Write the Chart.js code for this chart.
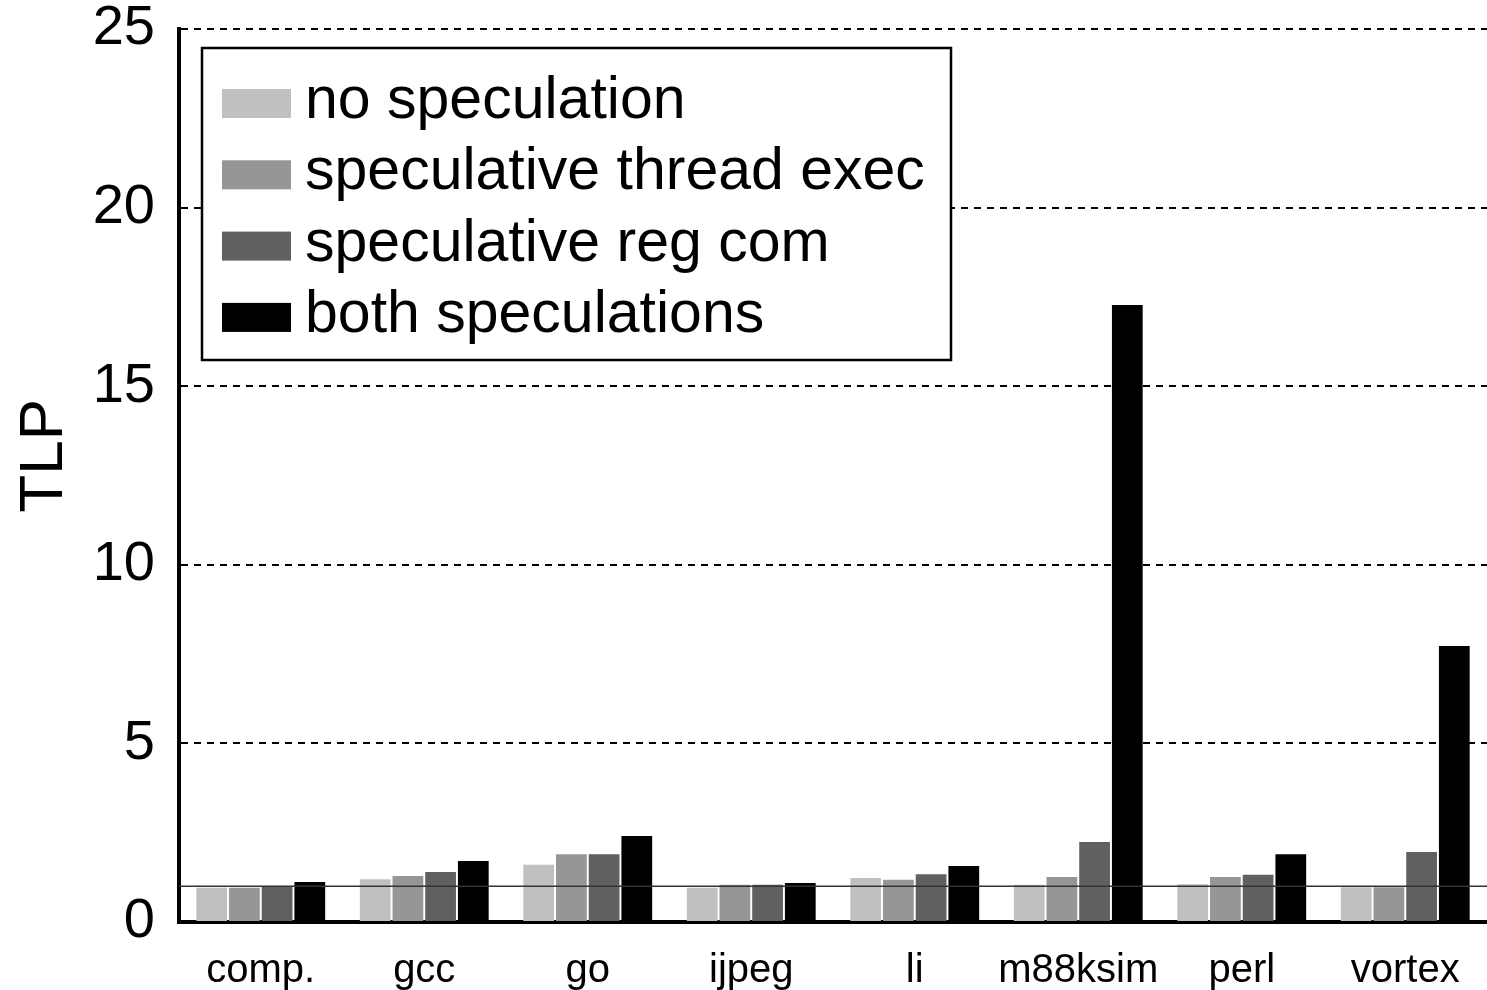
<!DOCTYPE html>
<html>
<head>
<meta charset="utf-8">
<script src="https://cdn.jsdelivr.net/npm/chart.js@4"></script>
<style>
  html, body { margin: 0; padding: 0; background: #fff; }
  #wrap { width: 1487px; height: 990px; }
</style>
</head>
<body>
<div id="wrap"><canvas id="tlpChart"></canvas></div>
<script>
// values
const categories = ["comp.", "gcc", "go", "ijpeg", "li", "m88ksim", "perl", "vortex"];
const seriesNames = ["no speculation", "speculative thread exec", "speculative reg com", "both speculations"];
const noSpec     = [0.96, 1.20, 1.60, 0.96, 1.23, 1.04, 1.06, 0.97];
const threadExec = [0.96, 1.29, 1.90, 1.04, 1.18, 1.26, 1.26, 0.97];
const regCom     = [0.98, 1.40, 1.90, 1.04, 1.34, 2.24, 1.32, 1.96];
const bothSpec   = [1.12, 1.71, 2.41, 1.09, 1.57, 17.27, 1.90, 7.73];
const yTicks = [0, 5, 10, 15, 20, 25];
const baseline = 1;
const yTitle = "TLP";

const colors = ["#c0c0c0", "#969696", "#606060", "#000000"];
const FONT = "'Liberation Sans', Arial, Helvetica, sans-serif";

Chart.defaults.font.family = FONT;
Chart.defaults.color = "#000";

// thin solid line at TLP = 1, drawn over the bars
const baselinePlugin = {
    id: "baseline",
    afterDatasetsDraw(chart) {
        const { ctx, chartArea } = chart;
        const y = chart.scales.y.getPixelForValue(baseline);
        ctx.save();
        ctx.strokeStyle = "#333";
        ctx.lineWidth = 1.5;
        ctx.beginPath();
        ctx.moveTo(chartArea.left, y);
        ctx.lineTo(chartArea.right, y);
        ctx.stroke();
        ctx.restore();
    }
};

// boxed legend inside the plot, top left + the y title
const boxLegend = {
    id: "boxLegend",
    afterDraw(chart) {
        const { ctx, chartArea } = chart;
        const bx = chartArea.left + 23, by = chartArea.top + 19;
        const bw = 749, bh = 312;
        ctx.save();
        ctx.fillStyle = "#fff";
        ctx.fillRect(bx, by, bw, bh);
        ctx.strokeStyle = "#000";
        ctx.lineWidth = 2.5;
        ctx.strokeRect(bx, by, bw, bh);
        ctx.font = "59px " + FONT;
        ctx.textBaseline = "alphabetic";
        ctx.textAlign = "left";
        chart.data.datasets.forEach((ds, i) => {
            const base = by + 70 + i * 71.3;
            ctx.fillStyle = ds.backgroundColor;
            ctx.fillRect(bx + 20, base - 29, 69, 29);
            ctx.fillStyle = "#000";
            ctx.fillText(ds.label, bx + 103, base);
        });
        ctx.restore();

        // axis title, sits a bit above the plot's middle like the original
        ctx.save();
        ctx.translate(62, chartArea.top + (chartArea.bottom - chartArea.top) * 0.478);
        ctx.rotate(-Math.PI / 2);
        ctx.font = "62px " + FONT;
        ctx.fillStyle = "#000";
        ctx.textAlign = "center";
        ctx.textBaseline = "alphabetic";
        ctx.fillText(yTitle, 0, 0);
        ctx.restore();
    }
};

const ctx = document.getElementById("tlpChart");
const seriesData = [noSpec, threadExec, regCom, bothSpec];

new Chart(ctx, {
    type: "bar",
    data: {
        labels: categories,
        datasets: seriesData.map((d, i) => ({
            label: seriesNames[i],
            data: d,
            backgroundColor: colors[i],
            borderWidth: 0,
            categoryPercentage: 0.8,
            barPercentage: 0.94
        }))
    },
    options: {
        responsive: true,
        maintainAspectRatio: false,
        animation: false,
        layout: { padding: { top: 29, right: -4, bottom: 0, left: 0 } },
        plugins: {
            legend: { display: false },
            tooltip: { enabled: false }
        },
        scales: {
            x: {
                grid: { display: false, drawTicks: false },
                border: { display: true, color: "#000", width: 4 },
                ticks: {
                    font: { size: 40 },
                    padding: 25,
                    color: "#000",
                    autoSkip: false,
                    maxRotation: 0,
                    minRotation: 0
                },
                afterFit(scale) { scale.height = 68; }
            },
            y: {
                min: 0,
                max: 25,
                afterBuildTicks(scale) { scale.ticks = yTicks.map(v => ({ value: v })); },
                grid: {
                    drawTicks: false,
                    lineWidth: 2,
                    color: (c) => (c.tick && c.tick.value === 0 ? "rgba(0,0,0,0)" : "#000")
                },
                border: { display: true, color: "#000", width: 4, dash: [7, 6] },
                ticks: { font: { size: 56, lineHeight: 1 }, padding: 24, color: "#000" },
                title: { display: false },
                afterFit(scale) {
                    scale.width = 179;
                    scale.paddingTop = 0;
                    scale.paddingBottom = 0;
                }
            }
        }
    },
    plugins: [baselinePlugin, boxLegend]
});
</script>
</body>
</html>
